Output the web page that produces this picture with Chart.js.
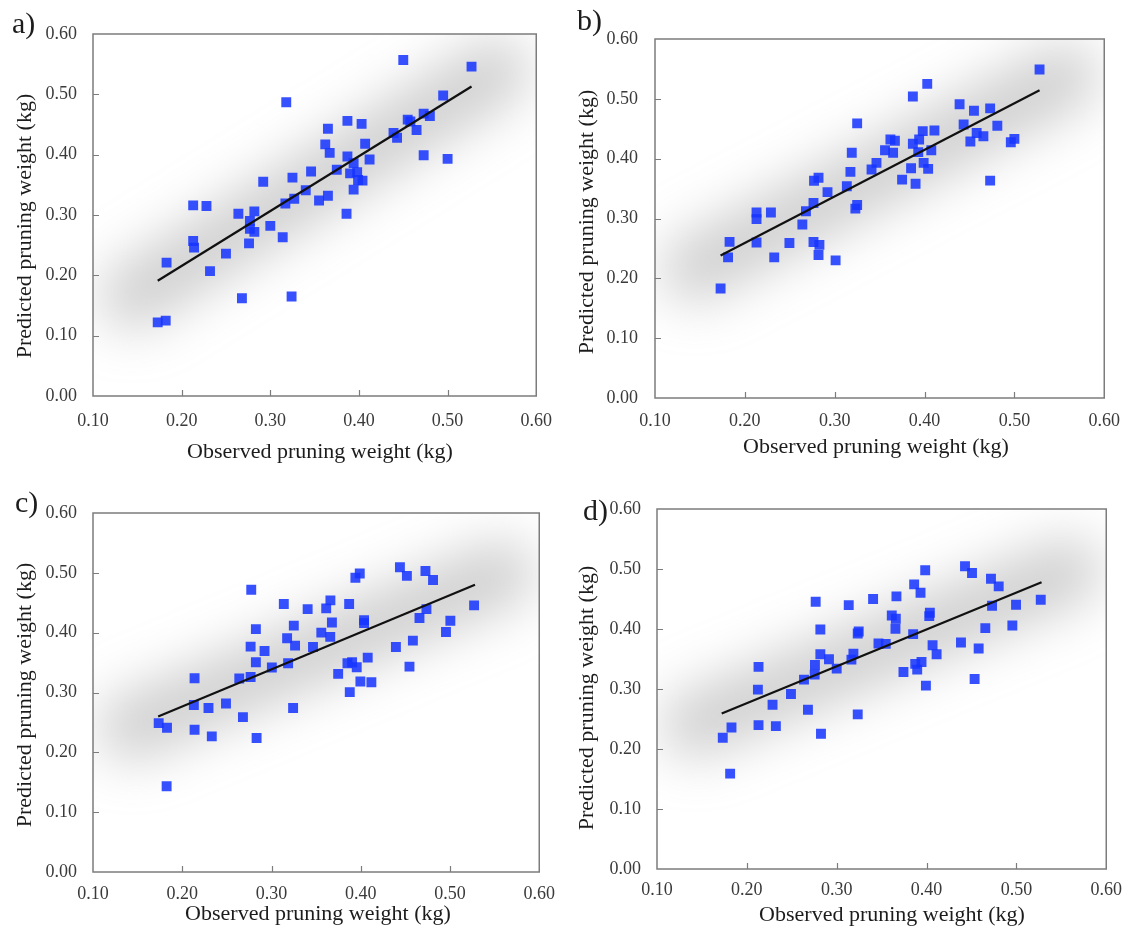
<!DOCTYPE html>
<html>
<head>
<meta charset="utf-8">
<title>Observed vs predicted pruning weight</title>
<script src="https://cdn.jsdelivr.net/npm/chart.js@4.4.1/dist/chart.umd.min.js"></script>
<style>
  html, body { margin: 0; padding: 0; background: #fff; }
  #wrap { position: relative; width: 1132px; height: 932px; }
  .panel { position: absolute; width: 566px; height: 466px; }
  canvas { display: block; }
</style>
</head>
<body>
<div id="wrap">
  <div class="panel" style="left:0;top:0"><canvas id="chartA" width="566" height="466"></canvas></div>
  <div class="panel" style="left:566px;top:0"><canvas id="chartB" width="566" height="466"></canvas></div>
  <div class="panel" style="left:0;top:466px"><canvas id="chartC" width="566" height="466"></canvas></div>
  <div class="panel" style="left:566px;top:466px"><canvas id="chartD" width="566" height="466"></canvas></div>
</div>
<script>
// observed / predicted pruning weight (kg), one pair of arrays per model
const obsA = [0.450,0.527,0.318,0.495,0.455,0.458,0.473,0.480,0.387,0.403,0.365,0.439,0.443,0.465,0.362,0.367,0.407,0.473,0.500,0.387,0.412,0.394,0.375,0.346,0.390,0.398,0.399,0.404,0.325,0.292,0.340,0.394,0.365,0.355,0.327,0.317,0.213,0.228,0.386,0.264,0.282,0.277,0.277,0.282,0.300,0.314,0.213,0.214,0.276,0.250,0.183,0.232,0.268,0.324,0.173,0.182];
const predA = [0.557,0.546,0.487,0.498,0.458,0.455,0.468,0.464,0.456,0.451,0.443,0.436,0.428,0.441,0.417,0.403,0.418,0.399,0.393,0.397,0.392,0.386,0.375,0.372,0.369,0.371,0.358,0.357,0.362,0.355,0.341,0.342,0.332,0.324,0.327,0.319,0.316,0.315,0.302,0.302,0.306,0.290,0.277,0.272,0.282,0.263,0.257,0.246,0.253,0.236,0.221,0.207,0.162,0.165,0.122,0.125];

const obsB = [0.528,0.403,0.387,0.325,0.439,0.455,0.473,0.481,0.4435,0.458,0.4655,0.451,0.496,0.500,0.411,0.398,0.394,0.387,0.362,0.367,0.356,0.365,0.393,0.4075,0.319,0.3465,0.341,0.3175,0.385,0.399,0.404,0.375,0.390,0.473,0.277,0.282,0.292,0.3135,0.2764,0.268,0.264,0.213,0.213,0.229,0.325,0.323,0.183,0.213,0.2496,0.2764,0.283,0.282,0.1813,0.2327,0.301,0.173];
const predB = [0.549,0.525,0.504,0.459,0.491,0.480,0.484,0.455,0.457,0.443,0.4375,0.4286,0.4275,0.433,0.447,0.446,0.432,0.425,0.432,0.430,0.414,0.410,0.411,0.414,0.410,0.393,0.382,0.378,0.384,0.393,0.383,0.365,0.358,0.3633,0.363,0.368,0.344,0.354,0.326,0.312,0.290,0.310,0.299,0.310,0.3226,0.3165,0.261,0.260,0.259,0.2607,0.256,0.239,0.235,0.235,0.230,0.183];

const obsC = [0.4439,0.4517,0.4725,0.481,0.3989,0.394,0.2773,0.3138,0.3405,0.3613,0.366,0.387,0.527,0.4736,0.4658,0.5004,0.4037,0.4037,0.3677,0.325,0.2825,0.4955,0.3558,0.3658,0.3175,0.3264,0.3465,0.2766,0.2922,0.4394,0.4584,0.4078,0.2825,0.3004,0.3186,0.3851,0.3903,0.3955,0.4546,0.3747,0.3996,0.4119,0.3877,0.2138,0.2639,0.2766,0.249,0.213,0.2294,0.3242,0.268,0.1736,0.1829,0.2138,0.2331,0.2833,0.1825];
const predC = [0.5094,0.495,0.503,0.488,0.499,0.4917,0.4717,0.448,0.4394,0.4406,0.454,0.448,0.4456,0.4394,0.4244,0.420,0.421,0.416,0.417,0.4117,0.406,0.401,0.400,0.393,0.3906,0.3783,0.376,0.3767,0.3694,0.376,0.3867,0.3583,0.3506,0.3417,0.349,0.349,0.3506,0.3422,0.3433,0.3311,0.3183,0.3172,0.3006,0.3239,0.3233,0.326,0.2817,0.279,0.274,0.274,0.2589,0.2489,0.2411,0.2378,0.2267,0.2239,0.1433];

const obsD = [0.4428,0.4506,0.3985,0.4717,0.4803,0.3862,0.3933,0.2766,0.3134,0.3405,0.3665,0.5271,0.4996,0.4729,0.3613,0.3658,0.4037,0.403,0.3654,0.4654,0.4955,0.2818,0.3245,0.3234,0.3851,0.3465,0.3546,0.4067,0.4383,0.458,0.4112,0.2818,0.2914,0.3186,0.3164,0.300,0.2758,0.2755,0.3874,0.3944,0.3896,0.3743,0.213,0.2636,0.4535,0.3993,0.2123,0.2491,0.2286,0.268,0.3234,0.1829,0.213,0.2323,0.1732,0.2825,0.1814];
const predD = [0.5045,0.4933,0.4978,0.4838,0.471,0.4744,0.4604,0.4454,0.4398,0.4499,0.4543,0.4487,0.4404,0.4387,0.4226,0.417,0.427,0.4214,0.4003,0.4014,0.4058,0.3992,0.3958,0.3925,0.3914,0.3758,0.3752,0.373,0.3774,0.3674,0.3579,0.3579,0.3496,0.359,0.349,0.334,0.3401,0.324,0.3418,0.3451,0.3323,0.3284,0.3368,0.3156,0.3167,0.3056,0.2989,0.2916,0.2738,0.2655,0.2577,0.2359,0.2398,0.2382,0.2187,0.2254,0.159];

// fitted line end points (observed x, predicted y)
const fitXA = [0.173, 0.527], fitYA = [0.191, 0.513];
const fitXB = [0.173, 0.528], fitYB = [0.238, 0.5145];
const fitXC = [0.173, 0.528], fitYC = [0.260, 0.480];
const fitXD = [0.172, 0.528], fitYD = [0.259, 0.478];

const panelTags = ['a)', 'b)', 'c)', 'd)'];
const xTitle = 'Observed pruning weight (kg)';
const yTitle = 'Predicted pruning weight (kg)';

const FONT = "'Liberation Serif', 'Times New Roman', serif";
const MARKER = 'rgba(22, 52, 255, 0.86)';
const TICK_COLOR = '#3a3a3a';
const FRAME_COLOR = '#7c7c7c';

// box = axis widths / paddings (px) so the plot frames line up in the 2x2 grid
const panels = [
  { id: 'chartA', tag: panelTags[0], obs: obsA, pred: predA, fitX: fitXA, fitY: fitYA,
    box: { left: 93, top: 34, right: 29, bottom: 70 }, xPad: 14, yPad: 16,
    tagAt: [12, 25], xTitleAt: [320, 452], yTitleAt: [25, 226] },
  { id: 'chartB', tag: panelTags[1], obs: obsB, pred: predB, fitX: fitXB, fitY: fitYB,
    box: { left: 89, top: 39, right: 22, bottom: 68 }, xPad: 12, yPad: 17,
    tagAt: [11, 22], xTitleAt: [310, 447], yTitleAt: [21, 222] },
  { id: 'chartC', tag: panelTags[2], obs: obsC, pred: predC, fitX: fitXC, fitY: fitYC,
    box: { left: 93, top: 47, right: 24, bottom: 60 }, xPad: 11, yPad: 16,
    tagAt: [15, 38], xTitleAt: [318, 448], yTitleAt: [25, 229] },
  { id: 'chartD', tag: panelTags[3], obs: obsD, pred: predD, fitX: fitXD, fitY: fitYD,
    box: { left: 91, top: 43, right: 25, bottom: 63 }, xPad: 10, yPad: 16,
    tagAt: [17, 46], xTitleAt: [326, 449], yTitleAt: [21, 232] },
];

function pairs(xs, ys) {
  return xs.map((v, i) => ({ x: v, y: ys[i] }));
}

// soft grey halo along the fitted line, frame, inward ticks and text
function decor(p) {
  return {
    id: 'decor',
    beforeDatasetsDraw(chart) {
      const { ctx, chartArea: a, scales: { x, y } } = chart;
      const x0 = x.getPixelForValue(p.fitX[0]), y0 = y.getPixelForValue(p.fitY[0]);
      const x1 = x.getPixelForValue(p.fitX[1]), y1 = y.getPixelForValue(p.fitY[1]);
      const len = Math.hypot(x1 - x0, y1 - y0);
      const ux = (x1 - x0) / len, uy = (y1 - y0) / len;
      const ext = 30;
      ctx.save();
      ctx.beginPath();
      ctx.rect(a.left, a.top, a.width, a.height);
      ctx.clip();
      ctx.filter = 'blur(26px)';
      ctx.strokeStyle = 'rgba(140,140,140,0.42)';
      ctx.lineWidth = 66;
      ctx.lineCap = 'round';
      ctx.beginPath();
      ctx.moveTo(x0 - ux * ext, y0 - uy * ext);
      ctx.lineTo(x1 + ux * ext, y1 + uy * ext);
      ctx.stroke();
      ctx.restore();
    },
    afterDraw(chart) {
      const { ctx, chartArea: a, scales: { x, y } } = chart;
      ctx.save();
      ctx.strokeStyle = FRAME_COLOR;
      ctx.lineWidth = 1.5;
      ctx.strokeRect(a.left, a.top, a.width, a.height);

      ctx.lineWidth = 1.2;
      ctx.beginPath();
      y.ticks.slice(1, -1).forEach(t => {
        const py = Math.round(y.getPixelForValue(t.value)) + 0.5;
        ctx.moveTo(a.left, py);
        ctx.lineTo(a.left + 6, py);
      });
      x.ticks.slice(1, -1).forEach(t => {
        const px = Math.round(x.getPixelForValue(t.value)) + 0.5;
        ctx.moveTo(px, a.bottom);
        ctx.lineTo(px, a.bottom - 6);
      });
      ctx.stroke();

      ctx.fillStyle = '#1c1c1c';
      ctx.textAlign = 'center';
      ctx.textBaseline = 'middle';
      ctx.font = `22px ${FONT}`;
      ctx.fillText(xTitle, p.xTitleAt[0], p.xTitleAt[1]);
      ctx.save();
      ctx.translate(p.yTitleAt[0], p.yTitleAt[1]);
      ctx.rotate(-Math.PI / 2);
      ctx.fillText(yTitle, 0, 0);
      ctx.restore();

      ctx.textAlign = 'left';
      ctx.font = `30px ${FONT}`;
      ctx.fillText(p.tag, p.tagAt[0], p.tagAt[1]);
      ctx.restore();
    }
  };
}

function buildPanel(p) {
  const ctx = document.getElementById(p.id).getContext('2d');
  const tickFont = { family: FONT, size: 18 };
  return new Chart(ctx, {
    type: 'scatter',
    data: {
      datasets: [
        {
          type: 'line',
          data: pairs(p.fitX, p.fitY),
          borderColor: '#111',
          borderWidth: 2.2,
          pointRadius: 0,
          fill: false,
        },
        {
          data: pairs(p.obs, p.pred),
          pointStyle: 'rect',
          pointRadius: 7,
          backgroundColor: MARKER,
          borderWidth: 0,
        }
      ]
    },
    options: {
      responsive: false,
      animation: false,
      events: [],
      layout: { padding: { left: 0, top: p.box.top, right: p.box.right, bottom: 0 } },
      plugins: { legend: { display: false }, tooltip: { enabled: false } },
      scales: {
        x: {
          type: 'linear', min: 0.1, max: 0.6,
          ticks: { stepSize: 0.1, padding: p.xPad, color: TICK_COLOR, font: tickFont,
                   maxRotation: 0, callback: v => v.toFixed(2) },
          grid: { display: false, drawTicks: false },
          border: { display: false },
          afterFit: s => { s.height = p.box.bottom; }
        },
        y: {
          type: 'linear', min: 0, max: 0.6,
          ticks: { stepSize: 0.1, padding: p.yPad, color: TICK_COLOR, font: tickFont,
                   callback: v => v.toFixed(2) },
          grid: { display: false, drawTicks: false },
          border: { display: false },
          afterFit: s => { s.width = p.box.left; }
        }
      }
    },
    plugins: [decor(p)]
  });
}

panels.forEach(buildPanel);
</script>
</body>
</html>
